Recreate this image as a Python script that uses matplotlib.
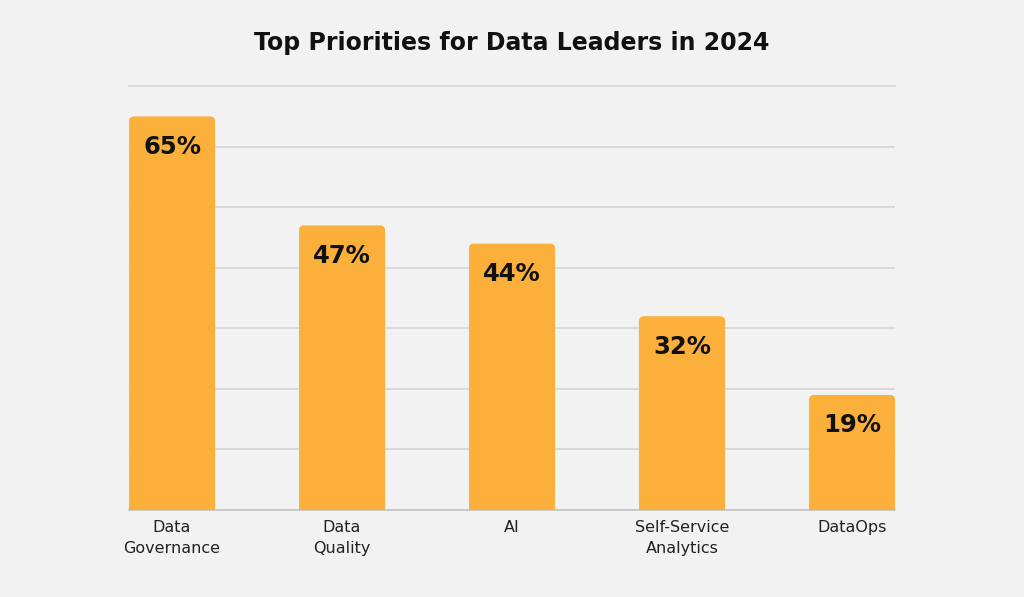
import matplotlib.pyplot as plt
from matplotlib.patches import FancyBboxPatch

categories = ["Data\nGovernance", "Data\nQuality", "AI", "Self-Service\nAnalytics", "DataOps"]
values = [65, 47, 44, 32, 19]
value_labels = ["65%", "47%", "44%", "32%", "19%"]

bg = "#f2f2f2"
bar_color = "#fbb03b"

fig = plt.figure(figsize=(10.24, 5.97), dpi=100, facecolor=bg)
ax = fig.add_axes([0.126, 0.1457, 0.748, 0.710], facecolor=bg)

width = 0.506
x = list(range(len(values)))
bars = ax.bar(x, values, width=width, color=bar_color, zorder=3)

# swap in slightly rounded bars (bottom corners hidden below the axis)
for b in bars:
    bx, by = b.get_x(), b.get_y()
    w, h = b.get_width(), b.get_height()
    b.remove()
    p = FancyBboxPatch((bx, by - 2), w, h + 2,
                       boxstyle="round,pad=0,rounding_size=0.03",
                       mutation_aspect=25, fc=bar_color, ec="none",
                       zorder=3, clip_on=True)
    ax.add_patch(p)

for xi, v, lab in zip(x, values, value_labels):
    ax.text(xi, v - 5, lab, ha="center", va="center", fontsize=17.5,
            fontweight="bold", color="#111111", zorder=4)

ax.set_xlim(-width / 2, len(values) - 1 + width / 2)
ax.set_ylim(0, 70)
ax.set_yticks(range(0, 71, 10))
ax.yaxis.grid(True, color="#d6d6d6", linewidth=1.2, zorder=0)
# top line sits on the axes edge, don't let it get clipped in half
ax.get_ygridlines()[-1].set_clip_on(False)
ax.tick_params(axis="y", left=False, labelleft=False)
ax.set_xticks(x)
ax.set_xticklabels(categories, fontsize=11.5, color="#222222", linespacing=1.5)
ax.tick_params(axis="x", length=0, pad=7)
for s in ["top", "right", "left"]:
    ax.spines[s].set_visible(False)
ax.spines["bottom"].set_color("#c4c4c4")
ax.spines["bottom"].set_linewidth(1.2)

fig.text(0.5, 0.928, "Top Priorities for Data Leaders in 2024", ha="center",
         va="center", fontsize=17, fontweight="bold", color="#111111")

fig.savefig("out.png", dpi=100, facecolor=bg)
